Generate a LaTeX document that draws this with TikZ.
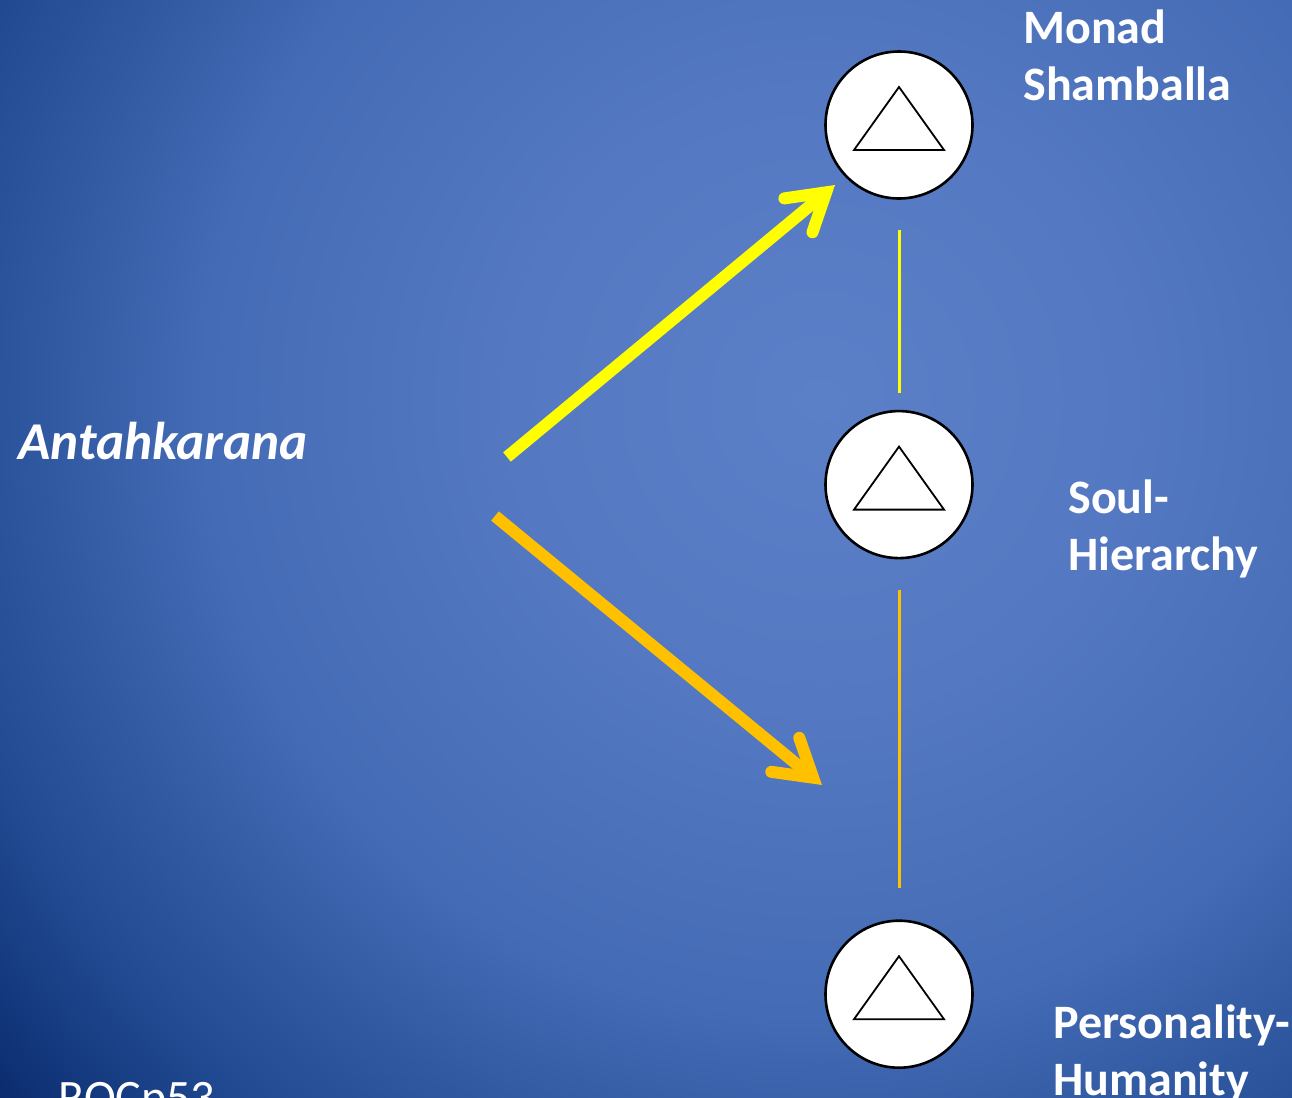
\documentclass[tikz,border=0pt]{standalone}
\usepackage{fontspec}
\setmainfont{Carlito}
\usetikzlibrary{arrows.meta,positioning}
\definecolor{bglight}{HTML}{5B80C8}
\definecolor{bgmid}{HTML}{5479C2}
\definecolor{bgmid2}{HTML}{446BB5}
\definecolor{bgdark}{HTML}{214A92}
\definecolor{bgdeep}{HTML}{08286A}
\definecolor{yline}{HTML}{FFFF00}
\definecolor{oline}{HTML}{FFC000}
\pgfdeclareradialshading{slidebg}{\pgfpoint{0bp}{0bp}}{color(0bp)=(bglight); color(7bp)=(bgmid); color(14bp)=(bgmid2); color(20.5bp)=(bgdark); color(25bp)=(bgdeep); color(50bp)=(bgdeep)}

\begin{document}
\begin{tikzpicture}[x=0.5pt,y=-0.5pt,>={Straight Barb[length=18pt,width=22pt,line cap=round,line join=miter]},
plane/.style={circle,draw,fill=white,line width=1.3pt,minimum size=73.5pt,inner sep=0pt,
  path picture={\draw[line width=0.9pt,line join=miter] ([shift={(-45,25)}]path picture bounding box.center) -- ([shift={(0,-38)}]path picture bounding box.center) -- ([shift={(45,25)}]path picture bounding box.center) -- cycle;}},
lbl/.style={text=white,font=\fontsize{24}{28.5}\selectfont\bfseries,align=left,anchor=north west,inner sep=0pt},
link/.style={line width=1.5pt},ray/.style={->,line width=6pt}]
\useasboundingbox (0,0) rectangle (1292,1098);
\clip (0,0) rectangle (1292,1098);
\shade[shading=slidebg] (820,400) circle (1100);

\node[plane] (m) at (899,125) {};
\node[plane] (s) [below=105pt of m] {};
\node[plane] (p) [below=180pt of s] {};

\node[lbl] (mt) at (1023,9) {Monad\\Shamballa};
\node[lbl] (st) at (1068,479) {Soul-\\Hierarchy};
\node[lbl] (pt) at (1053,1004) {Personality-\\Humanity};
\node[lbl,font=\fontsize{26.6}{31}\selectfont\bfseries\itshape] (at) at (18,422) {Antahkarana};
\node[lbl,font=\fontsize{24}{28.5}\selectfont] (rf) at (58,1082) {ROCp53};

\coordinate (y0) at (507,457);
\coordinate (y1) at (835,185);
\coordinate (o0) at (495,516);
\coordinate (o1) at (822,785);

\draw[link,yline,shorten <=15pt,shorten >=8.5pt] (m) -- (s);
\draw[link,oline,shorten <=15.5pt,shorten >=15.5pt] (s) -- (p);
\draw[ray,yline] (y0) -- (y1);
\draw[ray,oline] (o0) -- (o1);
\end{tikzpicture}
\end{document}
